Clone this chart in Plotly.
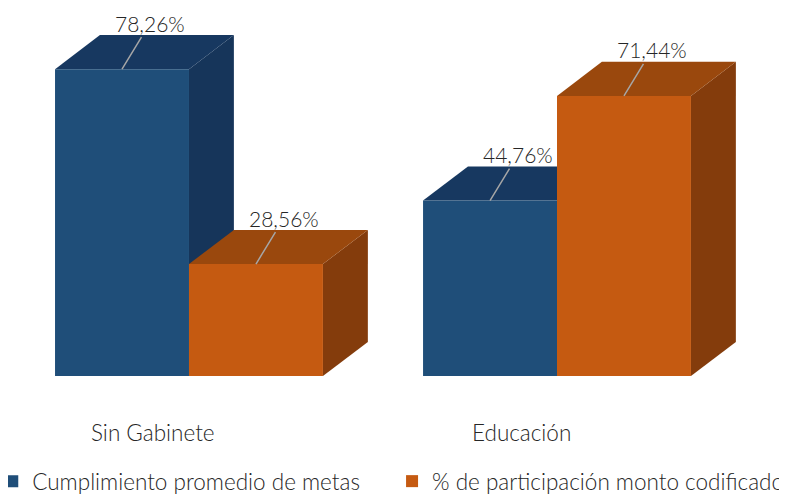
import plotly.graph_objects as go

categorias = ["Sin Gabinete", "Educación"]
cumplimiento = [78.26, 44.76]
participacion = [28.56, 71.44]
etiquetas_cumpl = ["78,26%", "44,76%"]
etiquetas_part = ["28,56%", "71,44%"]

nombre_cumpl = "Cumplimiento promedio de metas"
nombre_part = "% de participación monto codificado"

azul = ["#1F4E79", "#173860", "#16355A"]      # frente, techo, lado
naranja = ["#C55A11", "#9A480D", "#843C0C"]

ancho = 0.364
prof_x = 0.122
prof_y = 8.7

fig = go.Figure()
shapes = []
anots = []


def caja(x0, v, colores):
    x1 = x0 + ancho
    lado = (f"M{x1},0 L{x1},{v} L{x1 + prof_x},{v + prof_y} "
            f"L{x1 + prof_x},{prof_y} Z")
    techo = (f"M{x0},{v} L{x1},{v} L{x1 + prof_x},{v + prof_y} "
             f"L{x0 + prof_x},{v + prof_y} Z")
    shapes.append(dict(type="path", path=lado, xref="x", yref="y",
                       fillcolor=colores[2], line=dict(width=0), layer="below"))
    shapes.append(dict(type="path", path=techo, xref="x", yref="y",
                       fillcolor=colores[1], line=dict(width=0), layer="below"))


for i in range(len(categorias)):
    caja(i - ancho, cumplimiento[i], azul)
    caja(i, participacion[i], naranja)

fig.add_trace(go.Bar(x=list(range(len(categorias))), y=cumplimiento,
                     width=ancho, offset=-ancho, name=nombre_cumpl,
                     marker=dict(color=azul[0], line=dict(width=0)),
                     legend="legend", hoverinfo="skip"))
fig.add_trace(go.Bar(x=list(range(len(categorias))), y=participacion,
                     width=ancho, offset=0, name=nombre_part,
                     marker=dict(color=naranja[0], line=dict(width=0)),
                     legend="legend2", hoverinfo="skip"))

for i in range(len(categorias)):
    for xc, v, t in [(i - ancho / 2, cumplimiento[i], etiquetas_cumpl[i]),
                     (i + ancho / 2, participacion[i], etiquetas_part[i])]:
        anots.append(dict(x=xc, y=v, xref="x", yref="y", text=t,
                          showarrow=True, arrowhead=0, arrowwidth=1.5,
                          arrowcolor="#A6A6A6", ax=28, ay=-46,
                          font=dict(size=21, color="#262626", weight=300)))
    anots.append(dict(x=i - 0.097, y=-14.5, xref="x", yref="y",
                      text=categorias[i], showarrow=False,
                      font=dict(size=22.5, color="#262626", weight=300)))

fig.update_layout(
    width=787, height=497,
    margin=dict(l=0, r=0, t=0, b=0, autoexpand=False),
    paper_bgcolor="white", plot_bgcolor="white",
    font=dict(family="Lato, Open Sans, sans-serif"),
    shapes=shapes, annotations=anots,
    xaxis=dict(range=[-0.4918, 1.6467], visible=False, fixedrange=True),
    yaxis=dict(range=[-32.91, 93.87], visible=False, fixedrange=True),
    legend=dict(orientation="h", x=-0.02, y=0.004, xanchor="left", yanchor="bottom",
                font=dict(size=22.5, color="#262626", weight=300),
                bgcolor="rgba(0,0,0,0)"),
    legend2=dict(orientation="h", x=0.488, y=0.004, xanchor="left", yanchor="bottom",
                 font=dict(size=22.5, color="#262626", weight=300),
                 bgcolor="rgba(0,0,0,0)"),
    showlegend=True,
)

fig.write_html("out.html")
